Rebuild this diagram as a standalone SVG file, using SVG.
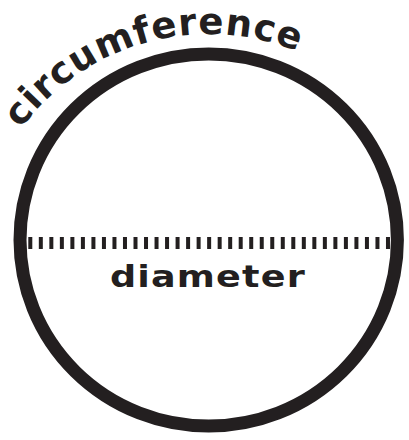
<svg xmlns="http://www.w3.org/2000/svg" width="409" height="440" viewBox="0 0 409 440">
  <style>
    .lbl { font-family: "DejaVu Sans", "Liberation Sans", sans-serif; font-weight: 700; fill: #231f20; }
  </style>
  <defs>
    <path id="arcPath" d="M 20.9 128.8 A 234 234 0 0 1 326 65.4" fill="none"/>
  </defs>
  <rect width="409" height="440" fill="#ffffff"/>
  <g id="circle">
    <ellipse cx="208.7" cy="240" rx="188.7" ry="186" fill="none" stroke="#231f20" stroke-width="13"/>
  </g>
  <g id="connectors">
    <line x1="28.3" y1="243" x2="392" y2="243" stroke="#231f20" stroke-width="12" stroke-dasharray="4 6.52"/>
  </g>
  <g id="diameter-label">
    <text class="lbl" transform="translate(110 287) scale(1.18 1)" x="0" y="0" font-size="31" textLength="165" lengthAdjust="spacing">diameter</text>
  </g>
  <g id="circumference-label">
    <text class="lbl" font-size="37"><textPath href="#arcPath" textLength="309" lengthAdjust="spacing">circumference</textPath></text>
  </g>
</svg>
